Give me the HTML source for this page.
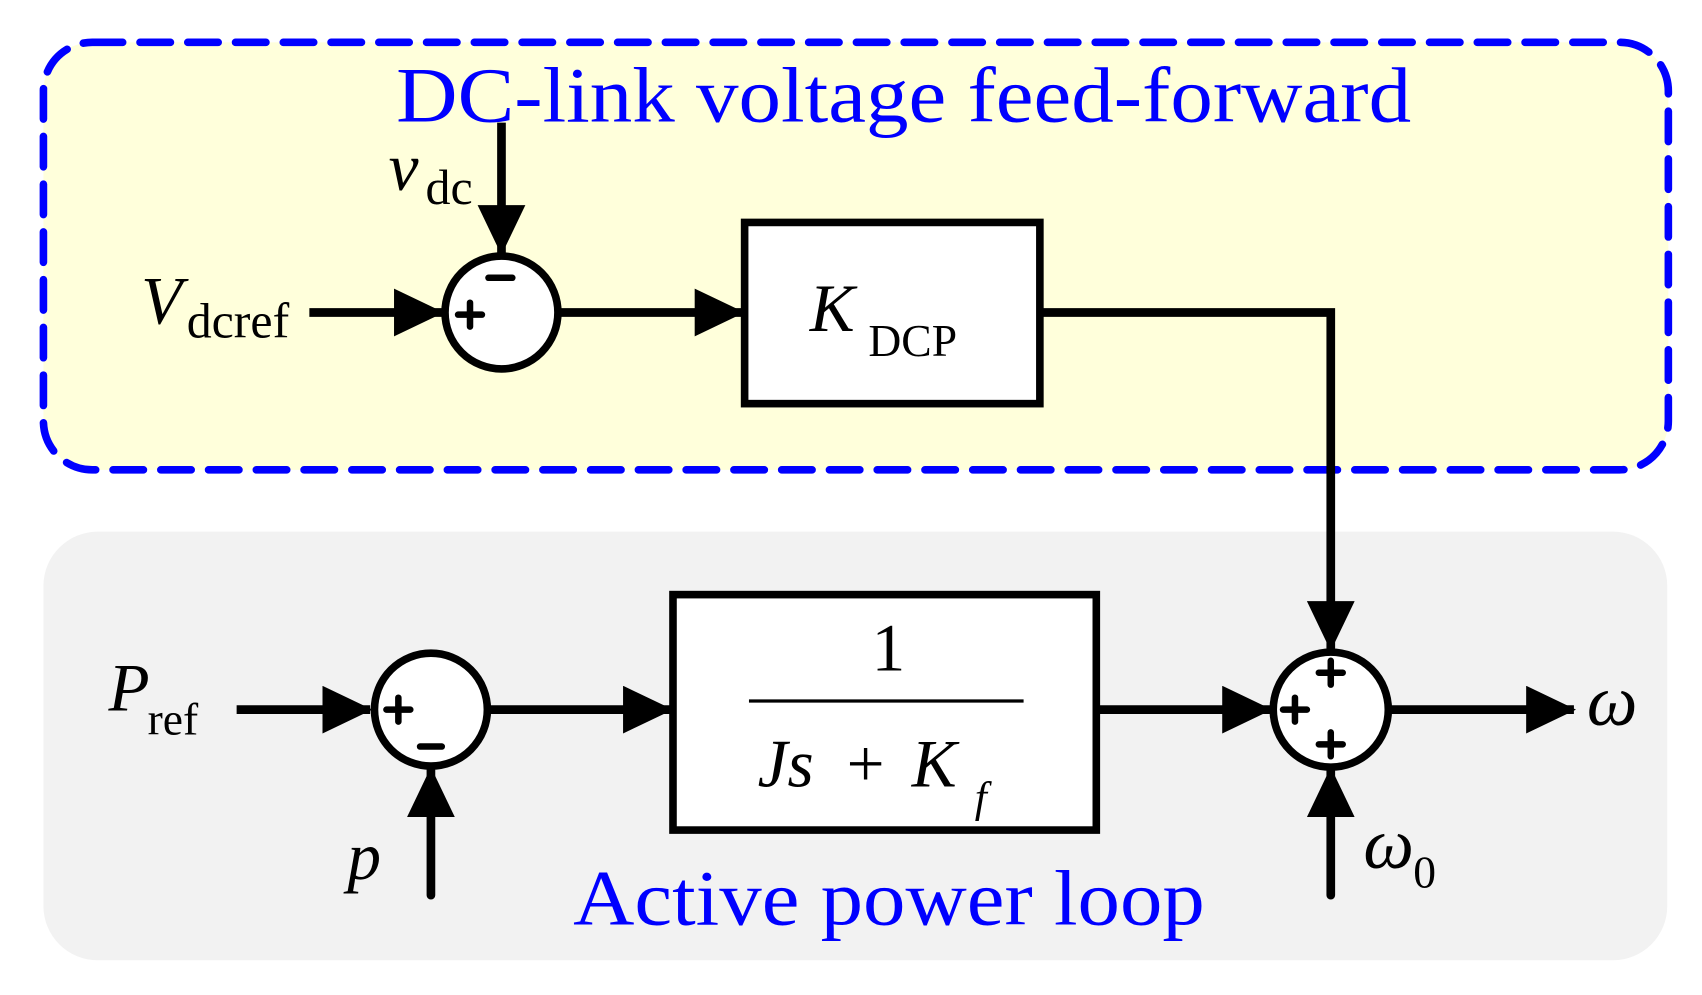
<!DOCTYPE html>
<html><head><meta charset="utf-8"><style>
html,body{margin:0;padding:0;background:#fff;width:1702px;height:995px;overflow:hidden}
svg{display:block}
text{font-family:"Liberation Serif",serif}
</style></head><body>
<svg width="1702" height="995" viewBox="0 0 1568 917" preserveAspectRatio="none" xmlns="http://www.w3.org/2000/svg">
<defs>
<marker id="a" markerUnits="userSpaceOnUse" markerWidth="46" markerHeight="44" refX="44" refY="22" orient="auto"><path d="M0,0 L46,22 L0,44 Z" fill="#000"/></marker>
</defs>
<rect x="40" y="490" width="1496" height="395" rx="50" fill="#f2f2f2"/>
<rect x="40" y="39" width="1497" height="394" rx="45" fill="#ffffdb" stroke="#0000ff" stroke-width="7" stroke-dasharray="28 16" stroke-linecap="round"/>
<text x="365" y="112" font-size="72" fill="#0000ff" textLength="935" lengthAdjust="spacingAndGlyphs">DC-link voltage feed-forward</text>
<text x="528" y="852" font-size="72" fill="#0000ff" textLength="582" lengthAdjust="spacingAndGlyphs">Active power loop</text>
<g stroke="#000" stroke-width="8" fill="none">
<line x1="462" y1="113" x2="462" y2="233" marker-end="url(#a)"/>
<line x1="285" y1="288" x2="407" y2="288" marker-end="url(#a)"/>
<line x1="515" y1="288" x2="684" y2="288" marker-end="url(#a)"/>
<polyline points="958,288 1226,288 1226,598" marker-end="url(#a)"/>
<line x1="218" y1="654" x2="341" y2="654" marker-end="url(#a)"/>
<line x1="397" y1="825" x2="397" y2="709" marker-end="url(#a)" stroke-linecap="round"/>
<line x1="450" y1="654" x2="618" y2="654" marker-end="url(#a)"/>
<line x1="1010" y1="654" x2="1170" y2="654" marker-end="url(#a)"/>
<line x1="1280" y1="654" x2="1450" y2="654" marker-end="url(#a)"/>
<line x1="1226" y1="825" x2="1226" y2="709" marker-end="url(#a)" stroke-linecap="round"/>
</g>
<g stroke="#000" stroke-width="7" fill="#fff">
<circle cx="462" cy="288" r="52"/>
<circle cx="397" cy="654" r="52"/>
<circle cx="1226" cy="654" r="53"/>
<rect x="686" y="205" width="272" height="167"/>
<rect x="620" y="548" width="390" height="217"/>
</g>
<g stroke="#000" stroke-width="6" stroke-linecap="round">
<path d="M422,290h22M433,279v22"/>
<path d="M450,256h22"/>
<path d="M356,654h22M367,643v22"/>
<path d="M387,688h20"/>
<path d="M1182,654h22M1193,643v22"/>
<path d="M1215,620h22M1226,609v22"/>
<path d="M1215,686h22M1226,675v22"/>
</g>
<line x1="690" y1="646" x2="943" y2="646" stroke="#000" stroke-width="3"/>
<g fill="#000">
<text x="358" y="175" font-size="62" font-style="italic">v</text>
<text x="392" y="188" font-size="46">dc</text>
<text x="130" y="298" font-size="62" font-style="italic">V</text>
<text x="172" y="311" font-size="46">dcref</text>
<text x="746" y="305" font-size="62" font-style="italic">K</text>
<text x="800" y="328" font-size="42">DCP</text>
<text x="100" y="655" font-size="62" font-style="italic">P</text>
<text x="136" y="677" font-size="42">ref</text>
<text x="320" y="810" font-size="62" font-style="italic">p</text>
<text x="803" y="618" font-size="62">1</text>
<text x="698" y="725" font-size="62" font-style="italic">Js</text>
<text x="780" y="725" font-size="62">+</text>
<text x="840" y="725" font-size="62" font-style="italic">K</text>
<text x="898" y="748" font-size="40" font-style="italic">f</text>
<text x="1462" y="668" font-size="66" font-style="italic">ω</text>
<text x="1256" y="800" font-size="66" font-style="italic">ω</text>
<text x="1302" y="818" font-size="42">0</text>
</g>
</svg>
</body></html>
